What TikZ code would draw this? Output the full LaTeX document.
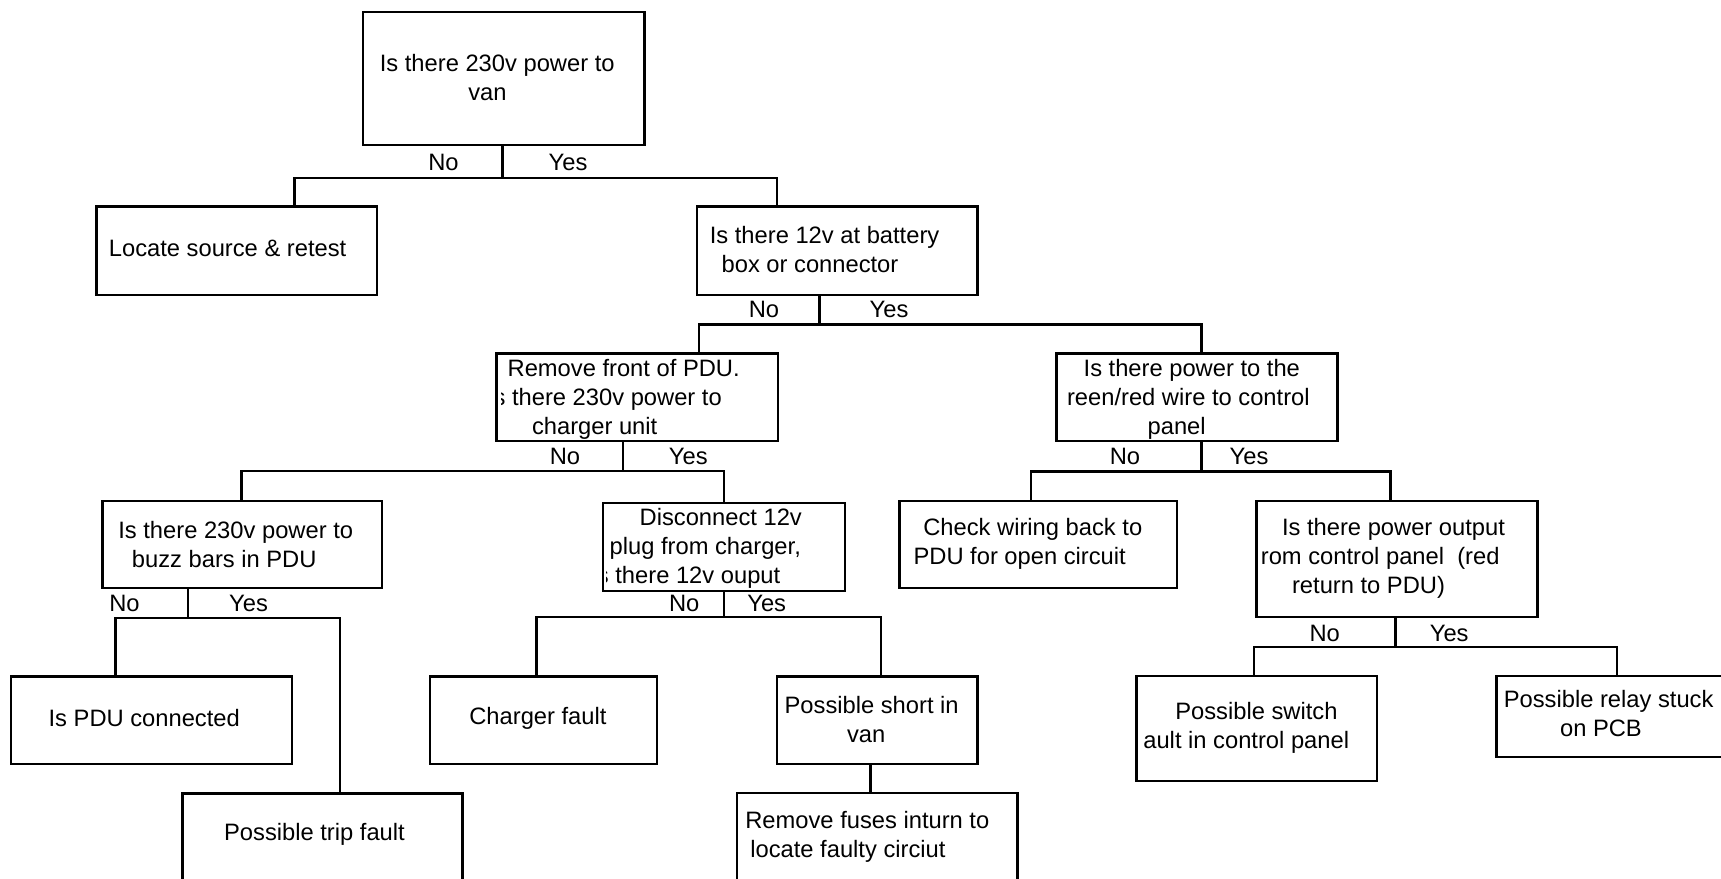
\documentclass[tikz,border=0pt]{standalone}
\usepackage{fontspec}
\setmainfont{Liberation Sans}
\usetikzlibrary{fit}

\begin{document}
\begin{tikzpicture}[
  x=0.2mm, y=-0.2mm,
  every node/.style={font=\fontsize{13.5}{16.5}\selectfont},
  box/.style={draw, line width=1.35pt, inner sep=0pt},
  txt/.style={anchor=west, inner sep=0pt, align=left},
  lbl/.style={anchor=base, inner sep=0pt},
  link/.style={line width=1.35pt}
]

% ============================================================
% Page
% ============================================================
\useasboundingbox (0,0) rectangle (1721,879);
\fill[white] (0,0) rectangle (1721,879);
\clip (0,0) rectangle (1721,879);

% ============================================================
% Boxes
% ============================================================
\node[box, fit={(363.3,12.3) (644.5,145.3)}] (q1) {};
\node[box, fit={(96.6,206.6) (377.2,295)}] (loc) {};
\node[box, fit={(697,206.6) (977.5,295)}] (q2) {};
\node[box, fit={(496.6,353.6) (777.8,441.3)}] (q3) {};
\node[box, fit={(1056.6,353.6) (1337.5,441.3)}] (q4) {};
\node[box, fit={(102.6,500.7) (382.3,588.3)}] (q5) {};
\node[box, fit={(603.3,503) (845,591.2)}] (q6) {};
\node[box, fit={(899.5,500.7) (1177,588.3)}] (chk) {};
\node[box, fit={(1256.6,500.7) (1537.6,617.3)}] (q7) {};
\node[box, fit={(11,676.5) (292,764.3)}] (pdu) {};
\node[box, fit={(182.5,793.5) (462.4,900)}] (trip) {};
\node[box, fit={(430,676.5) (657,764.3)}] (chg) {};
\node[box, fit={(777,676.5) (977.5,764.3)}] (shrt) {};
\node[box, fit={(736.7,793.3) (1017.5,900)}] (fuse) {};
\node[box, fit={(1136.5,676.3) (1377,781)}] (sw) {};
\node[box, fit={(1496.5,676.3) (1740,756.7)}] (rly) {};

% ============================================================
% Box texts
% ============================================================
\node[txt] (t1) at (379.5,77.5) {Is there 230v power to\\\hspace*{17.7mm}van};
\node[txt] (tloc) at (108.6,248) {Locate source \& retest};
\node[txt] (t2) at (709.5,250) {Is there 12v at battery\\\hspace*{2.36mm}box or connector};
\begin{scope}
  \clip (501.5,355) rectangle (776,440);
  \node[txt] (t3) at (486.7,399) {\hspace*{4.12mm}Remove front of PDU.\\Is there 230v power to\\\hspace*{9mm}charger unit};
\end{scope}
\node[txt] (t4) at (1066.7,399) {\hspace*{3.32mm}Is there power to the\\reen/red wire to control\\\hspace*{16.12mm}panel};
\node[txt] (t5) at (118,544.2) {Is there 230v power to\\\hspace*{2.72mm}buzz bars in PDU};
\begin{scope}
  \clip (606,504) rectangle (844,590);
  \node[txt] (t6) at (590,548) {\hspace*{9.86mm}Disconnect 12v\\\hspace*{3.86mm}plug from charger,\\Is there 12v ouput};
\end{scope}
\node[txt] (tchk) at (913.2,544.2) {\hspace*{1.96mm}Check wiring back to\\PDU for open circuit};
\node[txt] (t7) at (1260.5,558.5) {\hspace*{4.24mm}Is there power output\\rom control panel\ \ (red\\\hspace*{6.24mm}return to PDU)};
\node[txt] (tpdu) at (48.3,718) {Is PDU connected};
\node[txt] (ttrip) at (223.8,834.5) {Possible trip fault};
\node[txt] (tchg) at (469,718) {Charger fault};
\node[txt] (tshrt) at (784.3,719.5) {Possible short in\\\hspace*{12.48mm}van};
\node[txt] (tfuse) at (745,837) {Remove fuses inturn to\\\hspace*{1mm}locate faulty circiut};
\node[txt] (tsw) at (1143,727.8) {\hspace*{6.4mm}Possible switch\\ault in control panel};
\node[txt] (trly) at (1503.5,714) {Possible relay stuck\\\hspace*{11.24mm}on PCB};

% ============================================================
% Branches (junction, No end, Yes end)
% ============================================================
\coordinate (ja) at (502.5,177.7);  \coordinate (na) at (294.6,177.7);  \coordinate (ya) at (777,177.7);
\coordinate (jb) at (819.5,324.5);  \coordinate (nb) at (699.3,324.5);  \coordinate (yb) at (1201.5,324.5);
\coordinate (jc) at (623,471);      \coordinate (nc) at (241.4,471);    \coordinate (yc) at (724,471);
\coordinate (jd) at (1201.5,471.5); \coordinate (nd) at (1031.1,471.5); \coordinate (yd) at (1390.4,471.5);
\coordinate (je) at (188,618.3);    \coordinate (ne) at (115.5,618.3);  \coordinate (ye) at (339.7,618.3);
\coordinate (jf) at (723.7,616.7);  \coordinate (nf) at (536.5,616.7);  \coordinate (yf) at (881,616.7);
\coordinate (jg) at (1395.5,647.3); \coordinate (ng) at (1254,647.3);   \coordinate (yg) at (1617,647.3);

\foreach \up/\j/\lo/\hi in {q1/a/loc/q2, q2/b/q3/q4, q3/c/q5/q6, q4/d/chk/q7,
                            q5/e/pdu/trip, q6/f/chg/shrt, q7/g/sw/rly} {
  \draw[link] (\up.south -| j\j) -- (j\j);
  \draw[link] (\lo.north -| n\j) -- (n\j) -- (y\j) -- (\hi.north -| y\j);
}

% short in van -> remove fuses
\coordinate (sf) at (870.5,779);
\draw[link] (shrt.south -| sf) -- (fuse.north -| sf);

% ============================================================
% No / Yes labels
% ============================================================
\node[lbl] (noa) at (443.5,170.5) {No};   \node[lbl] (yesa) at (568,170.5) {Yes};
\node[lbl] (nob) at (764,317.5) {No};     \node[lbl] (yesb) at (889,317.5) {Yes};
\node[lbl] (noc) at (565,464.7) {No};     \node[lbl] (yesc) at (688.3,464.7) {Yes};
\node[lbl] (nod) at (1125,464.7) {No};    \node[lbl] (yesd) at (1249,464.7) {Yes};
\node[lbl] (noe) at (124.5,611) {No};     \node[lbl] (yese) at (248.5,611) {Yes};
\node[lbl] (nof) at (684.2,611.3) {No};   \node[lbl] (yesf) at (766.7,611.3) {Yes};
\node[lbl] (nog) at (1324.7,641.3) {No};  \node[lbl] (yesg) at (1449.2,641.3) {Yes};

\end{tikzpicture}
\end{document}
